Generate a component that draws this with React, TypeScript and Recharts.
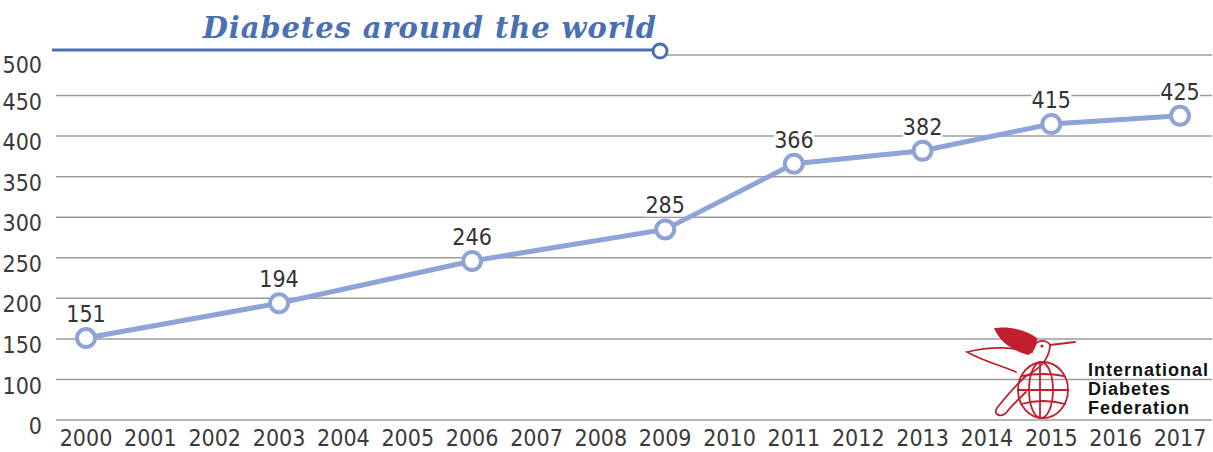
import React from "react";
import { LineChart, Line, XAxis, YAxis, CartesianGrid, LabelList } from "recharts";

const years = ["2000","2001","2002","2003","2004","2005","2006","2007","2008","2009","2010","2011","2012","2013","2014","2015","2016","2017"];
const diabetesMillions: (number | null)[] = [151,null,null,194,null,null,246,null,null,285,null,366,null,382,null,415,null,425];
const yTicks = [50,100,150,200,250,300,350,400,450,500];
const title = "Diabetes around the world";
const logoLines = ["International","Diabetes","Federation"];

const data = years.map((y, i) => ({ year: y, value: diabetesMillions[i] }));

const LINE = "#8ea4d6";
const TITLE = "#4a70b4";
const RED = "#c0202e";
const FONT = "'Liberation Sans Narrow', 'DejaVu Sans Condensed', 'Arial Narrow', sans-serif";

const ValueLabel = (props: any) => {
  const { x, y, value } = props;
  if (value == null) return null;
  return (
    <g>
      <rect x={x - 20} y={y - 35} width={40} height={22} fill="#fff" />
      <text x={x} y={y - 16} textAnchor="middle" fontSize={23} fill="#333" fontFamily={FONT}
        style={{ fontStretch: "condensed" }}>{value}</text>
    </g>
  );
};

const YTick = (props: any) => {
  const { x, y, payload } = props;
  const v = payload.value;
  const extra = v === 500 ? 10 : 6;
  return (
    <text x={x} y={y + extra} dy="0.355em" textAnchor="end" fontSize={23} fill="#3a3a3a" fontFamily={FONT}
      style={{ fontStretch: "condensed" }}>{v === 50 ? "0" : String(v)}</text>
  );
};

export default function App() {
  return (
    <div style={{ position: "absolute", left: 0, top: 0, width: 1213, height: 452, background: "#fff" }}>
      <LineChart width={1213} height={452} data={data} margin={{ top: 55, right: 1, bottom: 0, left: 0 }}>
        <CartesianGrid vertical={false} stroke="#9b9b9b" strokeWidth={1.5} strokeOpacity={1} />
        <XAxis dataKey="year" axisLine={false} tickLine={false} padding={{ left: 30, right: 32 }} interval={0}
          tick={{ fontSize: 23, fill: "#3a3a3a", fontFamily: FONT, style: { fontStretch: "condensed" } } as any}
          tickMargin={4} height={32} />
        <YAxis type="number" domain={[50, 500]} ticks={yTicks} axisLine={false} tickLine={false} width={56}
          tick={<YTick />} tickMargin={8} />
        <Line dataKey="value" connectNulls isAnimationActive={false} stroke={LINE} strokeWidth={5}
          dot={{ r: 9, stroke: LINE, strokeWidth: 4, fill: "#fff" }}>
          <LabelList dataKey="value" content={ValueLabel as any} />
        </Line>
      </LineChart>
      <svg width={1213} height={452} style={{ position: "absolute", left: 0, top: 0, pointerEvents: "none" }}>
        <rect x={50} y={52} width={606} height={6} fill="#fff" />
        <text x={657} y={38} textAnchor="end" fontSize={29} fontWeight="bold" fontStyle="italic" fill={TITLE}
          letterSpacing={0.9} fontFamily="'DejaVu Serif', serif">{title}</text>
        <line x1={52} x2={653} y1={50} y2={50} stroke={TITLE} strokeWidth={3} />
        <circle cx={660} cy={51} r={7} fill="#fff" stroke={TITLE} strokeWidth={3} />
        <g fill="none" stroke={RED} strokeWidth={1.8} strokeLinecap="round">
          <ellipse cx={1043} cy={390} rx={25} ry={28} />
          <ellipse cx={1041} cy={390} rx={12} ry={28} />
          <line x1={1040} y1={362} x2={1040} y2={418} />
          <line x1={1018} y1={390} x2={1068} y2={390} />
          <path d="M1022 376 Q1043 372 1064 376" />
          <path d="M1021 404 Q1043 398 1065 404" />
          <path d="M1030 352 C1033 344 1038 340 1044 341 C1048 342 1050 344 1050 346" />
          <path d="M1050 345 L1075 342" />
          <path d="M1032 352 C1015 348 995 345 967 352 C985 362 1003 366 1016 372" />
          <path d="M1050 347 C1048 362 1038 370 1026 376 C1015 386 1005 398 997 408 C993 414 1000 418 1006 413 C1012 405 1020 398 1026 392" />
        </g>
        <path d="M994 328 C1010 326 1026 330 1037 338 C1037 347 1033 353 1028 355 C1014 351 1000 343 994 328 Z" fill={RED} />
        <circle cx={1042} cy={346} r={1.6} fill={RED} />
        {logoLines.map((t, i) => (
          <text key={t} x={1088} y={376 + i * 19} fontSize={18} letterSpacing={1} fontWeight="bold" fill="#111"
            fontFamily="'Liberation Sans', Arial, sans-serif">{t}</text>
        ))}
      </svg>
    </div>
  );
}
